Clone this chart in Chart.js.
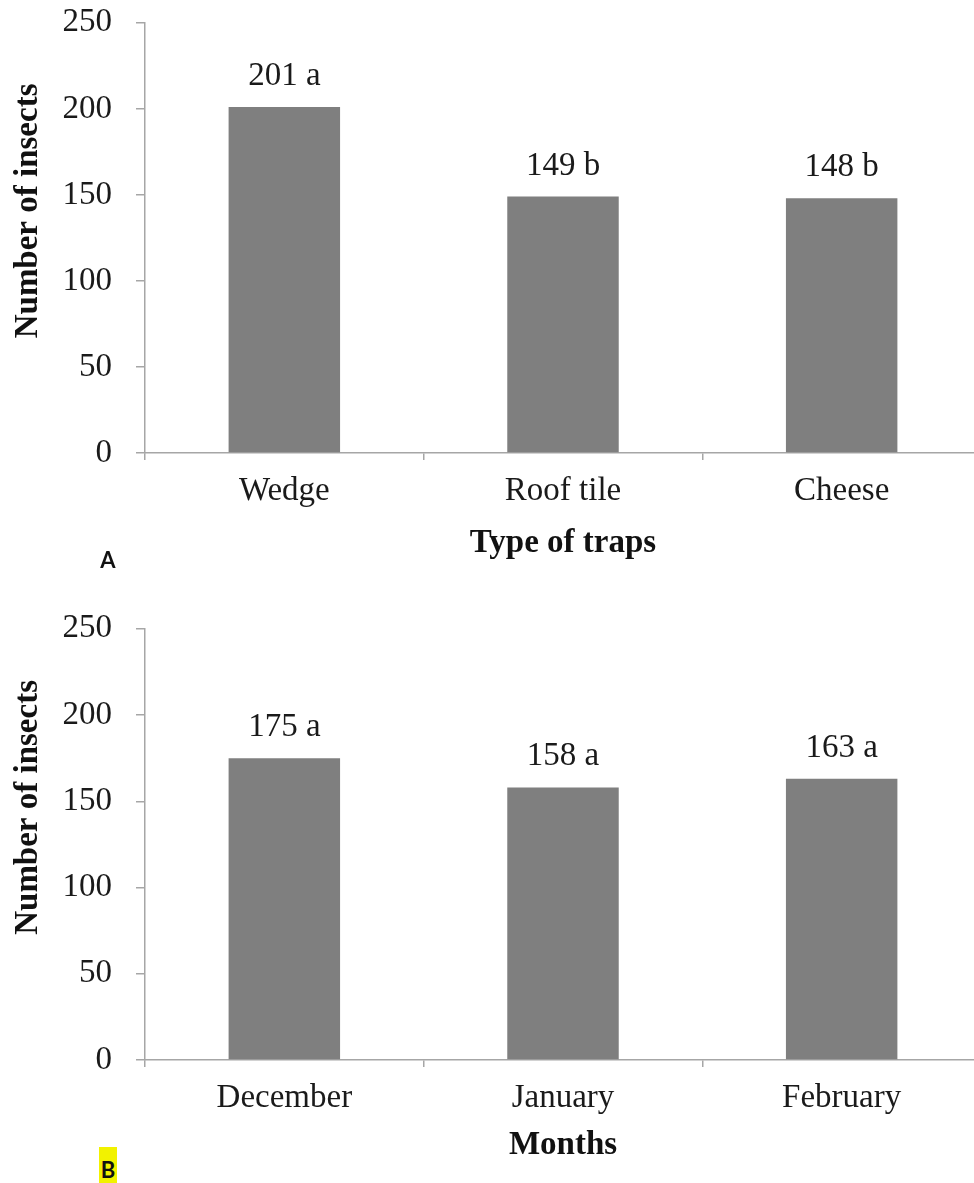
<!DOCTYPE html>
<html>
<head>
<meta charset="utf-8">
<script src="https://cdn.jsdelivr.net/npm/chart.js@4.4.1/dist/chart.umd.min.js"></script>
<style>
body { margin: 0; background: #fff; width: 974px; height: 1183px; position: relative; overflow: hidden; }
.box { position: absolute; left: 0; width: 990px; }
#boxA { top: -21px; height: 611px; }
#boxB { top: 585px; height: 598px; }
.tag { position: absolute; font: bold 22px Lato, "DejaVu Sans", sans-serif; color: #111; text-align: center; width: 18px; }
#tagA { left: 99px; top: 548px; line-height: 24px; }
#tagB { left: 99px; top: 1147px; height: 40px; line-height: 30px; padding-top: 8px; box-sizing: border-box; background: #f2f200; }
</style>
</head>
<body>
<div class="box" id="boxA"><canvas id="chartA"></canvas></div>
<div class="box" id="boxB"><canvas id="chartB"></canvas></div>
<div class="tag" id="tagA">A</div>
<div class="tag" id="tagB">B</div>
<script>
// data
var trapTypes = ['Wedge', 'Roof tile', 'Cheese'];
var trapCounts = [201, 149, 148];
var trapLetters = ['a', 'b', 'b'];

var months = ['December', 'January', 'February'];
var monthCounts = [175, 158, 163];
var monthLetters = ['a', 'a', 'a'];

var yMax = 250;
var yStep = 50;
var yTitle = 'Number of insects';

var serif = '"Liberation Serif", "Times New Roman", serif';
var axisGray = '#a6a6a6';
var barGray = '#7f7f7f';
var fs = 33;

// writes "201 a" above each bar, and the y title (sits a bit above centre in the original)
var barLabels = {
    id: 'barLabels',
    afterDatasetsDraw: function(chart, args, opts) {
        var c = chart.ctx;
        var meta = chart.getDatasetMeta(0);
        c.save();
        c.font = fs + 'px ' + serif;
        c.fillStyle = '#1a1a1a';
        c.textAlign = 'center';
        c.textBaseline = 'alphabetic';
        meta.data.forEach(function(bar, i) {
            var v = chart.data.datasets[0].data[i];
            c.fillText(v + ' ' + opts.letters[i], bar.x, bar.y - 22);
        });
        var area = chart.chartArea;
        c.translate(28, (area.top + area.bottom) / 2 + opts.titleShift);
        c.rotate(-Math.PI / 2);
        c.font = 'bold ' + fs + 'px ' + serif;
        c.fillStyle = '#111';
        c.textBaseline = 'middle';
        c.fillText(yTitle, 0, 0);
        c.restore();
    }
};

function makeChart(id, labels, values, letters, xTitle, xHeight, titleBottom, titleShift) {
    var ctx = document.getElementById(id).getContext('2d');
    return new Chart(ctx, {
        type: 'bar',
        data: {
            labels: labels,
            datasets: [{
                data: values,
                backgroundColor: barGray,
                borderWidth: 0,
                categoryPercentage: 1,
                barPercentage: 0.4
            }]
        },
        options: {
            responsive: true,
            maintainAspectRatio: false,
            animation: false,
            layout: { padding: { left: 0, right: 9, top: 10, bottom: 0 } },
            plugins: {
                legend: { display: false },
                tooltip: { enabled: false },
                barLabels: { letters: letters, titleShift: titleShift }
            },
            scales: {
                x: {
                    offset: true,
                    grid: { offset: true, drawOnChartArea: false, color: axisGray, tickLength: 7, lineWidth: 1.5 },
                    border: { color: axisGray, width: 1.5 },
                    ticks: { color: '#1a1a1a', font: { family: serif, size: fs }, padding: 12 },
                    title: { display: true, text: xTitle, color: '#111', font: { family: serif, size: fs, weight: 'bold' }, padding: { top: 0, bottom: titleBottom } },
                    afterFit: function(s) { s.height = xHeight; }
                },
                y: {
                    min: 0,
                    max: yMax,
                    grid: { drawOnChartArea: false, color: axisGray, tickLength: 9, lineWidth: 1.5 },
                    border: { color: axisGray, width: 1.5 },
                    ticks: { stepSize: yStep, color: '#1a1a1a', font: { family: serif, size: fs }, padding: 24 },
                    afterFit: function(s) { s.width = 145; }
                }
            }
        },
        plugins: [barLabels]
    });
}

makeChart('chartA', trapTypes, trapCounts, trapLetters, 'Type of traps', 137, 27, -27);
makeChart('chartB', months, monthCounts, monthLetters, 'Months', 123, 18, -37);
</script>
</body>
</html>
